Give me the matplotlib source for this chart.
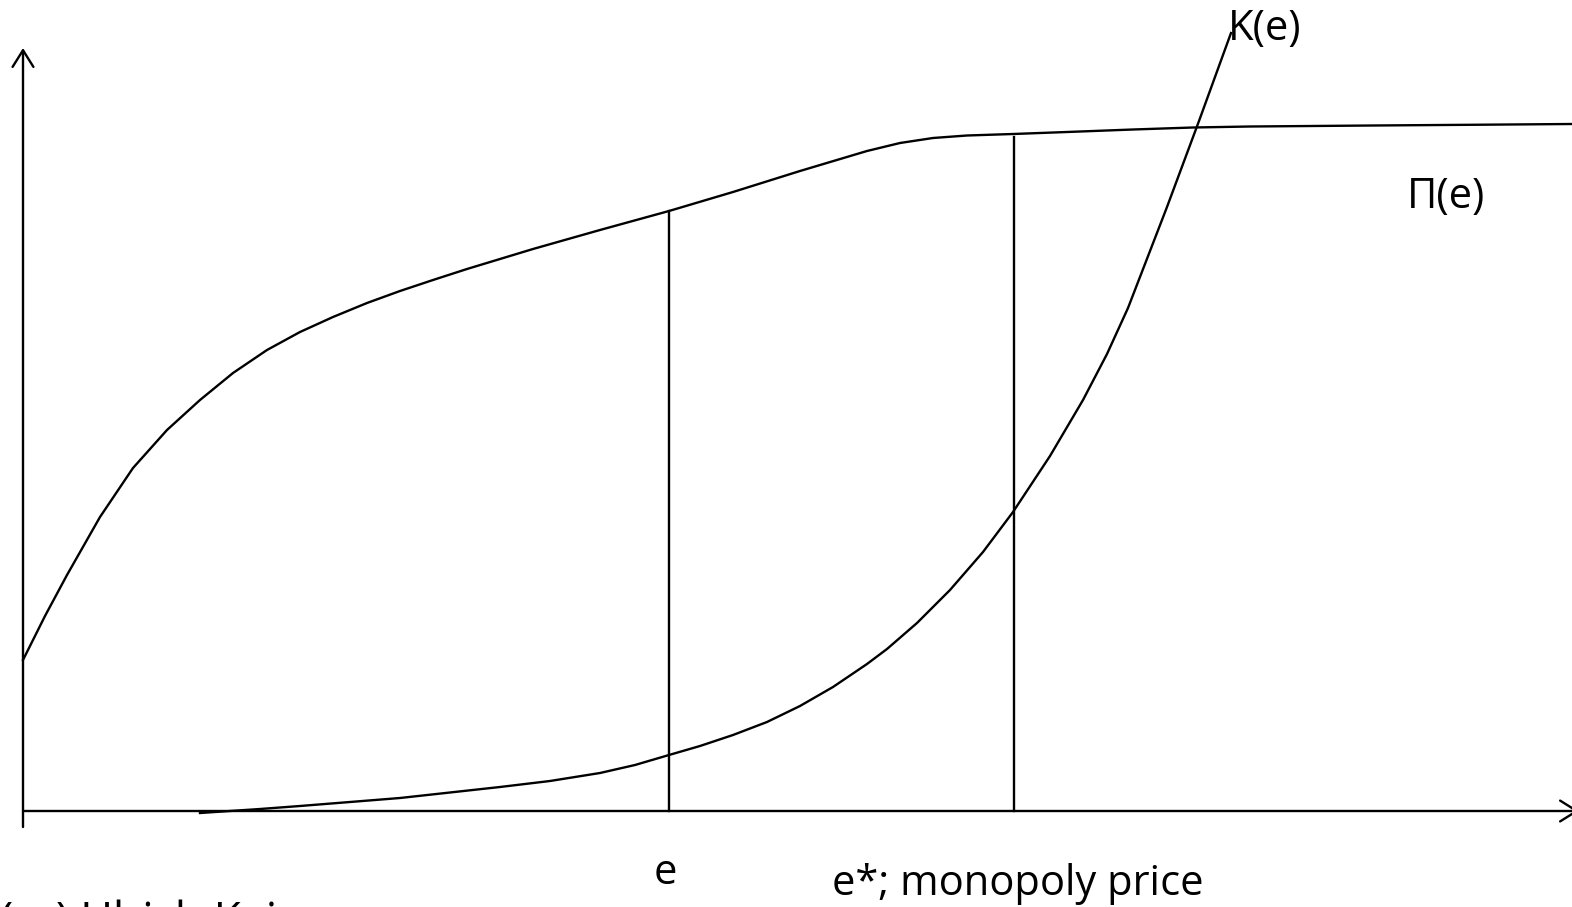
import matplotlib
matplotlib.use('Agg')
import matplotlib.pyplot as plt

# diagram coordinates: origin where the axes cross, x to the right, y up
# profit curve Pi(e)
pi_x = [0, 22, 44, 77, 110, 144, 177, 210, 244, 277, 310, 344, 377, 410, 444,
        477, 510, 577, 646, 710, 777, 844, 877, 910, 944, 990, 1044, 1110,
        1170, 1227, 1350, 1460, 1549]
pi_y = [151, 195, 236, 294, 343, 381, 411, 438, 461, 479, 494, 508, 520, 531, 542,
        552, 562, 581, 600, 619, 640, 660, 668, 673, 675.5, 677, 679, 681.5,
        683.5, 684.5, 685.5, 686.3, 687]

# cost curve K(e)
k_x = [177, 237, 277, 377, 477, 527, 577, 612, 646, 677, 710, 744, 777, 810, 844,
       864, 894, 927, 960, 990, 1027, 1060, 1084, 1105, 1144, 1176, 1208]
k_y = [-2, 2, 5, 13, 24, 30, 38, 46, 56, 65, 76, 89, 105, 124, 147,
       162, 188, 221, 259, 299, 355, 411, 457, 503, 604, 690, 778]

# vertical markers: e and e*
e_x = 646
e_top = 600
estar_x = 991
estar_top = 674

x_end = 1556
y_end = 763

plt.rcParams['font.family'] = ['Open Sans', 'DejaVu Sans']

fig = plt.figure(figsize=(15.72, 9.07), dpi=100)
ax = fig.add_axes([0, 0, 1, 1])
ax.set_xlim(-23, 1549)
ax.set_ylim(-96, 811)
ax.axis('off')

lw = 1.7
arrow = dict(arrowstyle='->,head_length=1.2,head_width=0.75', color='black', lw=lw,
             shrinkA=0, shrinkB=0)
# axes with arrows
ax.annotate('', xy=(0, y_end), xytext=(0, -16), arrowprops=arrow, annotation_clip=False)
ax.annotate('', xy=(x_end, 0), xytext=(0, 0), arrowprops=arrow, annotation_clip=False)

ax.plot(pi_x, pi_y, color='black', lw=lw, solid_joinstyle='round')
ax.plot(k_x, k_y, color='black', lw=lw, solid_joinstyle='round')

ax.plot([e_x, e_x], [0, e_top], color='black', lw=lw)
ax.plot([estar_x, estar_x], [0, estar_top], color='black', lw=lw)

fs = 30
ax.text(1205, 782, 'K(e)', fontsize=fs, ha='left', va='center')
ax.text(1384, 614, 'Π(e)', fontsize=fs, ha='left', va='center')
ax.text(642, -62, 'e', fontsize=fs, ha='center', va='center')
ax.text(809, -73, 'e*; monopoly price', fontsize=fs, ha='left', va='center')
ax.text(-23, -89, '(cc) Ulrich Kaiser', fontsize=32, ha='left', va='top')

fig.savefig('out.png', dpi=100, facecolor='white')
